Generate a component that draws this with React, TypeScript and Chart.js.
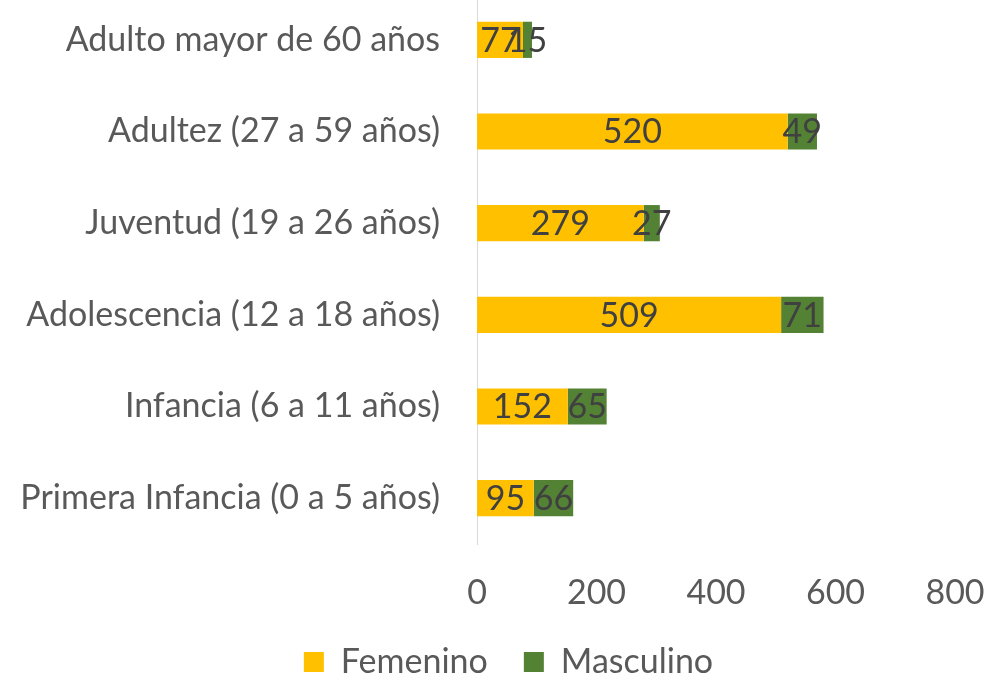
import React, { useEffect, useRef } from "react";
import { Chart, registerables } from "chart.js";
Chart.register(...registerables);

const categories = [
  "Adulto mayor de 60 años",
  "Adultez (27 a 59 años)",
  "Juventud (19 a 26 años)",
  "Adolescencia (12 a 18 años)",
  "Infancia (6 a 11 años)",
  "Primera Infancia (0 a 5 años)",
];
const femenino = [77, 520, 279, 509, 152, 95];
const masculino = [15, 49, 27, 71, 65, 66];
const xMin = 0;
const xMax = 800;
const xStep = 200;

const FONT = "Lato";
const FS = 34;
const W = 984;
const H = 695;

const dataLabels = {
  id: "dataLabels",
  afterDatasetsDraw(chart: any) {
    const ctx = chart.ctx;
    ctx.save();
    ctx.font = `${FS}px ${FONT}`;
    ctx.fillStyle = "#404040";
    ctx.textAlign = "center";
    ctx.textBaseline = "middle";
    chart.data.datasets.forEach((ds: any, di: number) => {
      const meta = chart.getDatasetMeta(di);
      meta.data.forEach((el: any, i: number) => {
        const cx = (el.x + el.base) / 2;
        ctx.fillText(String(ds.data[i]), cx, el.y + 1);
      });
    });
    ctx.restore();
  },
};

const legendShift = {
  id: "legendShift",
  afterLayout(chart: any) {
    const lg = chart.legend;
    if (lg) {
      lg.left += 31;
      lg.right += 31;
    }
  },
};

export default function App() {
  const ref = useRef<HTMLCanvasElement>(null);
  useEffect(() => {
    const chart = new Chart(ref.current!, {
      type: "bar",
      data: {
        labels: categories,
        datasets: [
          { label: "Femenino", data: femenino, backgroundColor: "#FFC000", barPercentage: 0.395, categoryPercentage: 1 },
          { label: "Masculino", data: masculino, backgroundColor: "#548235", barPercentage: 0.395, categoryPercentage: 1 },
        ],
      },
      options: {
        indexAxis: "y",
        responsive: false,
        animation: false,
        layout: { padding: { top: 0, right: 29, left: 0, bottom: 0 } },
        scales: {
          x: {
            stacked: true,
            min: xMin,
            max: xMax,
            ticks: { stepSize: xStep, color: "#595959", font: { family: FONT, size: FS }, padding: 29, maxRotation: 0 },
            grid: { display: false, drawTicks: false },
            border: { display: false },
            afterFit: (s: any) => { s.height = 65; s.paddingLeft = 0; s.paddingRight = 0; },
          },
          y: {
            stacked: true,
            ticks: { color: "#595959", font: { family: FONT, size: FS }, padding: 37 },
            grid: { display: false, drawTicks: false },
            border: { display: true, color: "#d9d9d9", width: 1 },
            afterFit: (s: any) => { s.width = 477; s.paddingTop = 0; s.paddingBottom = 0; },
          },
        },
        plugins: {
          legend: {
            position: "bottom",
            labels: { color: "#595959", font: { family: FONT, size: FS }, boxWidth: 20, boxHeight: 20, padding: 36 },
          },
          tooltip: { enabled: false },
        },
      },
      plugins: [dataLabels, legendShift],
    });
    return () => chart.destroy();
  }, []);
  return (
    <div style={{ position: "absolute", left: 0, top: -6, width: W, height: H }}>
      <canvas ref={ref} width={W} height={H} />
    </div>
  );
}
